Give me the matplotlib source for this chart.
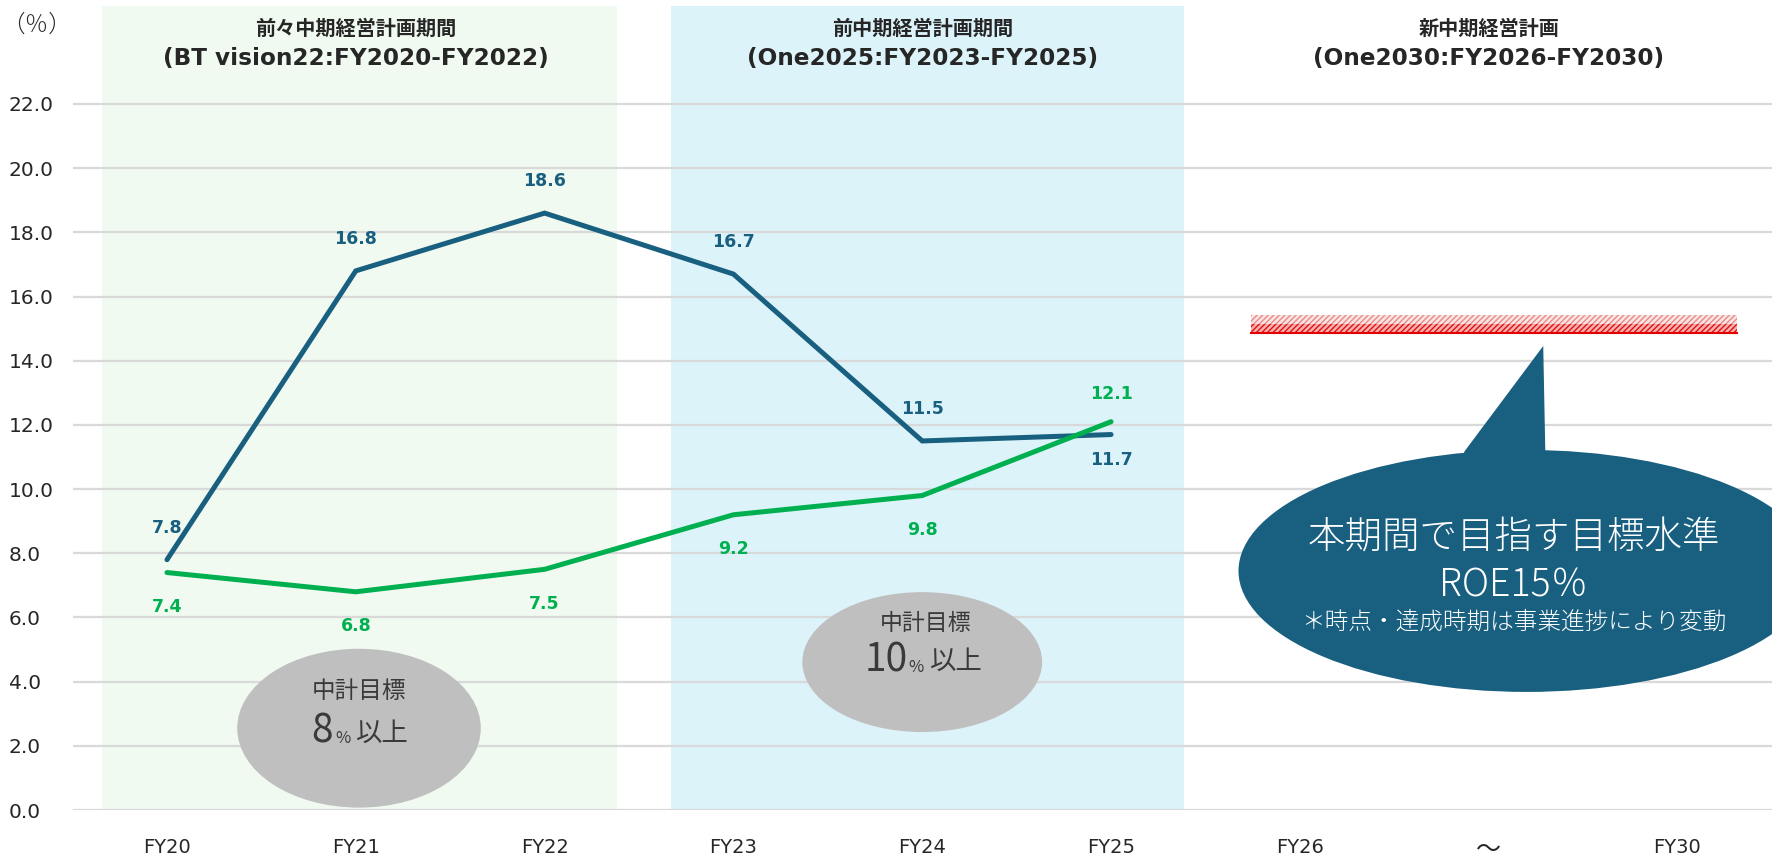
import matplotlib
matplotlib.use("Agg")
import matplotlib.pyplot as plt
from matplotlib.patches import Rectangle, Ellipse, Polygon

plt.rcParams['font.family'] = ['Noto Sans CJK JP', 'DejaVu Sans']
LATIN = ['DejaVu Sans', 'Noto Sans CJK JP']

# DATA
# =============================================================================
years = ['FY20', 'FY21', 'FY22', 'FY23', 'FY24', 'FY25', 'FY26', '～', 'FY30']
roe_blue = [7.8, 16.8, 18.6, 16.7, 11.5, 11.7]
roe_green = [7.4, 6.8, 7.5, 9.2, 9.8, 12.1]
blue_label_pos = ['above', 'above', 'above', 'above', 'above', 'below']
green_label_pos = ['below', 'below', 'below', 'below', 'below', 'above']
yticks = [0, 2, 4, 6, 8, 10, 12, 14, 16, 18, 20, 22]
period_titles = ['前々中期経営計画期間', '前中期経営計画期間', '新中期経営計画']
period_subtitles = ['(BT vision22:FY2020-FY2022)', '(One2025:FY2023-FY2025)',
                    '(One2030:FY2026-FY2030)']
target_roe = 15
mid_targets = ['8', '10']
# =============================================================================

BLUE = '#185f80'
GREEN = '#00b050'
DARK = '#262626'

fig = plt.figure(figsize=(17.79, 8.61), dpi=100)
ax = fig.add_axes([0.0408, 0.0592, 0.9552, 0.9408])
ax.set_xlim(-0.5, 8.5)
ax.set_ylim(0, 25.24)

# period shading
ax.add_patch(Rectangle((-0.344, 0), 2.728, 25.05, color='#f0faf0', zorder=0, lw=0))
ax.add_patch(Rectangle((2.667, 0), 2.722, 25.05, color='#dcf3fa', zorder=0, lw=0))

# grid
for yv in yticks:
    ax.axhline(yv, color='#d9d9d9', lw=1.6, zorder=1)

ax.set_yticks(yticks)
ax.set_yticklabels(['%.1f' % v for v in yticks], fontsize=14.5, color=DARK, family=LATIN)
ax.set_xticks(range(len(years)))
ax.set_xticklabels(years, fontsize=14, color=DARK, family=LATIN)
ax.get_xticklabels()[7].set_fontsize(18)
ax.tick_params(length=0)
ax.tick_params(axis='x', pad=20)
for lab in ax.get_yticklabels():
    lab.set_horizontalalignment('left')
ax.yaxis.set_tick_params(pad=46)
for s in ax.spines.values():
    s.set_visible(False)

ax.text(-0.88, 24.45, '（％）', fontsize=17, color=DARK, ha='left', va='center',
        fontweight='light')

# period headers
for i, (t, st) in enumerate(zip(period_titles, period_subtitles)):
    ax.text(1 + 3 * i, 24.37, t, fontsize=14.5, fontweight='bold', color=DARK,
            ha='center', va='center')
    ax.text(1 + 3 * i, 23.42, st, fontsize=16.7, fontweight='bold', color=DARK,
            ha='center', va='center', family=LATIN)

# lines
xs = list(range(len(roe_blue)))
ax.plot(xs, roe_blue, color=BLUE, lw=3.6, solid_capstyle='round',
        solid_joinstyle='miter', zorder=4)
ax.plot(xs, roe_green, color=GREEN, lw=3.6, solid_capstyle='round',
        solid_joinstyle='miter', zorder=4)

for x, v, p in zip(xs, roe_blue, blue_label_pos):
    ax.text(x, v + (1.0 if p == 'above' else -0.8), '%.1f' % v, color=BLUE,
            fontsize=12.5, fontweight='bold', ha='center', va='center', zorder=5,
            family=LATIN)
for x, v, p in zip(xs, roe_green, green_label_pos):
    ax.text(x, v + (0.85 if p == 'above' else -1.07), '%.1f' % v, color=GREEN,
            fontsize=12.5, fontweight='bold', ha='center', va='center', zorder=5,
            family=LATIN)

# mid-term target ellipses
GREYTXT = '#3a3a3a'
ax.add_patch(Ellipse((1.017, 2.55), 1.29, 4.95, color='#bfbfbf', lw=0, zorder=3))
ax.text(1.017, 3.68, '中計目標', fontsize=17, color=GREYTXT, ha='center', va='center', zorder=6)
ax.text(0.821, 2.45, mid_targets[0], fontsize=28, color=GREYTXT, ha='center', va='center', zorder=6)
ax.text(0.931, 2.22, '%', fontsize=12, color=GREYTXT, ha='center', va='center', zorder=6)
ax.text(1.134, 2.4, '以上', fontsize=19, color=GREYTXT, ha='center', va='center', zorder=6)

ax.add_patch(Ellipse((4.0, 4.61), 1.27, 4.36, color='#bfbfbf', lw=0, zorder=3))
ax.text(4.02, 5.8, '中計目標', fontsize=16.5, color=GREYTXT, ha='center', va='center', zorder=6)
ax.text(3.81, 4.67, mid_targets[1], fontsize=28, color=GREYTXT, ha='center', va='center', zorder=6)
ax.text(3.968, 4.44, '%', fontsize=12, color=GREYTXT, ha='center', va='center', zorder=6)
ax.text(4.175, 4.62, '以上', fontsize=19, color=GREYTXT, ha='center', va='center', zorder=6)

# target band (hatched): pale upper half, red lower half
ax.add_patch(Rectangle((5.742, target_roe + 0.13), 2.574, 0.3, facecolor='#fbe4e4',
                       edgecolor='#e88a8a', hatch='//////', lw=0, zorder=3))
ax.add_patch(Rectangle((5.742, target_roe - 0.17), 2.574, 0.3, facecolor='#f7b0b0',
                       edgecolor='#e01010', hatch='//////', lw=0, zorder=3))
ax.plot([5.742, 8.316], [target_roe - 0.14, target_roe - 0.14], color='#e00000', lw=1.5, zorder=3)

# speech bubble
ax.add_patch(Ellipse((7.2, 7.45), 3.05, 7.54, color=BLUE, lw=0, zorder=3))
ax.add_patch(Polygon([(7.289, 14.46), (6.87, 11.16), (6.9, 9.5), (7.3, 9.5), (7.3, 11.16)],
                     closed=True, color=BLUE, lw=0, zorder=3))
ax.text(7.134, 8.48, '本期間で目指す目標水準', fontsize=27, color='white', ha='center',
        va='center', zorder=6, fontweight='light')
ax.text(7.134, 7.0, 'ROE%d％' % target_roe, fontsize=27, color='white', ha='center',
        va='center', zorder=6, fontweight='light')
ax.text(7.134, 5.86, '＊時点・達成時期は事業進捗により変動', fontsize=17, color='white',
        ha='center', va='center', zorder=6, fontweight='light')

fig.savefig('out.png', dpi=100)
